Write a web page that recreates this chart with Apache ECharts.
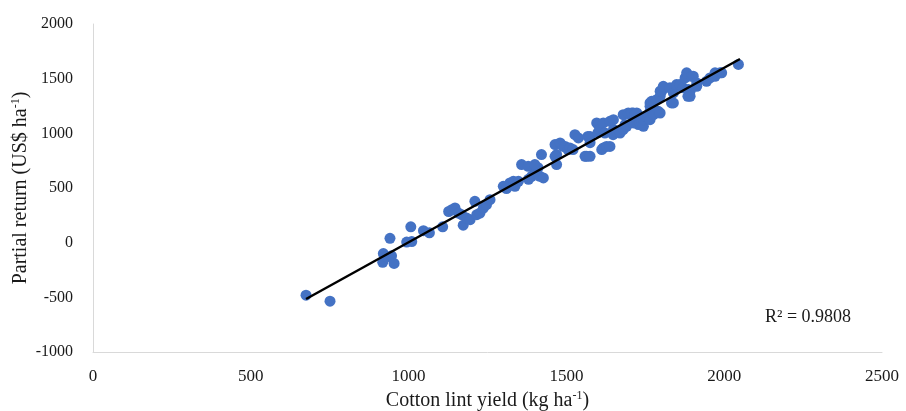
<!DOCTYPE html>
<html>
<head>
<meta charset="utf-8">
<script src="https://cdn.jsdelivr.net/npm/echarts@6/dist/echarts.min.js"></script>
<style>html,body{margin:0;padding:0;background:#fff;}#c{width:906px;height:411px;}</style>
</head>
<body>
<div id="c"></div>
<script>
var xTicks = [0, 500, 1000, 1500, 2000, 2500];
var yTicks = [-1000, -500, 0, 500, 1000, 1500, 2000];
var points = [
[675,-480],[751,-535],
[918,-180],[920,-100],[930,-130],[946,-120],[954,-190],[941,40],
[994,5],[1007,145],[1010,10],[1047,110],[1066,90],[1108,145],
[1127,285],[1137,302],[1147,317],[1158,271],[1168,256],[1173,160],[1184,225],[1195,210],
[1210,378],[1216,256],[1226,271],[1237,317],[1247,348],[1258,393],
[1300,515],[1310,495],[1321,546],[1332,561],[1337,515],[1348,561],[1358,714],[1379,698],[1390,607],[1401,637],[1410,686],[1416,607],[1421,806],[1427,592],[1400,714],[1380,580],
[1464,897],[1469,806],[1464,790],[1469,714],[1480,912],[1490,880],[1496,880],[1505,851],[1511,866],[1521,851],[1527,988],[1538,958],[1559,790],[1564,790],[1575,790],[1568,972],[1575,915],[1575,972],
[1596,1095],[1600,1006],[1601,1080],[1606,1034],[1612,851],[1617,866],[1617,1095],[1622,1003],[1627,880],[1638,1110],[1638,880],[1648,988],[1649,1034],[1649,1125],[1659,1018],[1670,1003],[1670,1018],[1680,1171],[1680,1034],[1686,1080],[1691,1064],[1696,1186],[1702,1171],[1712,1186],[1707,1186],[1712,1095],[1717,1171],[1723,1186],[1728,1080],[1733,1095],[1738,1110],[1744,1064],[1744,1125],[1749,1156],[1754,1156],[1765,1201],[1765,1125],[1765,1247],[1765,1278],[1770,1293],[1776,1171],[1776,1293],[1786,1308],[1791,1201],[1797,1186],[1797,1339],[1797,1385],[1802,1385],[1807,1416],[1807,1430],
[1828,1416],[1833,1278],[1839,1370],[1839,1278],[1849,1430],[1849,1446],[1860,1446],[1870,1416],[1876,1507],[1881,1553],[1885,1339],[1886,1400],[1892,1385],[1892,1339],[1897,1522],[1902,1522],[1913,1461],[1913,1430],[1944,1476],[1955,1507],[1971,1522],[1971,1553],[1987,1553],[1992,1553],[2045,1630]
];
var trendLine = [[675,-515],[2050,1680]];
var r2Label = 'R\u00B2 = 0.9808';

var chart = echarts.init(document.getElementById('c'));
var font = 'Liberation Serif, Times New Roman, serif';
function plain(v) { return String(v); }
var nameRich = {
  n: {fontFamily: font, fontSize: 20, color: '#1a1a1a'},
  s: {fontFamily: font, fontSize: 12, color: '#1a1a1a', padding: [0,0,10,0]}
};
chart.setOption({
  animation: false,
  backgroundColor: '#fff',
  grid: {left: 93, right: 24, top: 24, bottom: 59, containLabel: false, outerBoundsMode: 'none'},
  xAxis: {
    type: 'value', min: xTicks[0], max: xTicks[xTicks.length-1], interval: 500,
    name: '{n|Cotton lint yield (kg ha}{s|-1}{n|)}',
    nameLocation: 'middle', nameGap: 38, nameMoveOverlap: false,
    nameTextStyle: {rich: nameRich},
    axisLine: {show: true, onZero: false, lineStyle: {color: '#d9d9d9', width: 1}},
    axisTick: {show: false},
    splitLine: {show: false},
    axisLabel: {fontFamily: font, fontSize: 17, color: '#1a1a1a', margin: 16, formatter: plain}
  },
  yAxis: {
    type: 'value', min: yTicks[0], max: yTicks[yTicks.length-1], interval: 500,
    name: '{n|Partial return (US$ ha}{s|-1}{n|)}',
    nameLocation: 'middle', nameGap: 61, nameRotate: 90, nameMoveOverlap: false,
    nameTextStyle: {rich: nameRich},
    axisLine: {show: true, onZero: false, lineStyle: {color: '#d9d9d9', width: 1}},
    axisTick: {show: false},
    splitLine: {show: false},
    axisLabel: {fontFamily: font, fontSize: 16, color: '#1a1a1a', margin: 20, formatter: plain}
  },
  series: [
    {
      type: 'scatter', data: points, symbolSize: 11,
      itemStyle: {color: '#4472C4', opacity: 1}, z: 2
    },
    {
      type: 'line', data: trendLine, symbol: 'none',
      lineStyle: {color: '#000', width: 2.5}, z: 3, silent: true
    }
  ],
  graphic: [{
    type: 'text', left: 765, top: 308,
    style: {text: r2Label, fontFamily: font, fontSize: 18, fill: '#1a1a1a'}
  }]
});
</script>
</body>
</html>
